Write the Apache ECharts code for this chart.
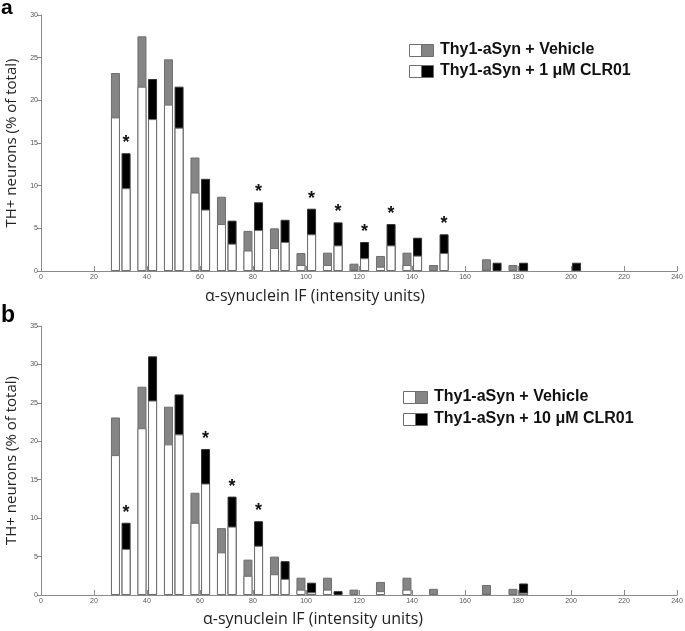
<!DOCTYPE html>
<html>
<head>
<meta charset="utf-8">
<script src="https://cdn.jsdelivr.net/npm/echarts@6/dist/echarts.min.js"></script>
<style>
  html, body { margin: 0; padding: 0; background: #fff; }
  #chart { width: 685px; height: 631px; }
</style>
</head>
<body>
<div id="chart"></div>
<script>
// histogram bins (intensity units), bar pairs sit either side of the bin centre
var bins = [30, 40, 50, 60, 70, 80, 90, 100, 110, 120, 130, 140, 150, 160, 170, 180, 190, 200]

// panel a : lower (white) part and total height of each bar, % of total
var vehLowA = [18.0, 21.6, 19.5, 9.2, 5.5, 2.4, 2.7, 0.7, 0.7, 0.2, 0.5, 0.7, 0, 0, 0.2, 0, 0, 0]
var vehTotA = [23.2, 27.5, 24.8, 13.3, 8.7, 4.7, 5.0, 2.1, 2.15, 0.86, 1.76, 2.15, 0.7, 0, 1.37, 0.7, 0, 0]
var trtLowA = [9.7, 17.8, 16.8, 7.2, 3.2, 4.8, 3.4, 4.3, 3.0, 1.5, 3.0, 1.8, 2.1, 0, 0, 0, 0, 0]
var trtTotA = [13.8, 22.5, 21.6, 10.8, 5.9, 8.05, 6.0, 7.3, 5.7, 3.4, 5.5, 3.9, 4.3, 0, 0.97, 0.97, 0, 0.97]
var starsA = [30, 80, 100, 110, 120, 130, 150]

// panel b
var vehLowB = [18.2, 21.7, 19.6, 9.4, 5.55, 2.5, 2.7, 0.7, 0.7, 0, 0.5, 0.7, 0, 0, 0.2, 0, 0, 0]
var vehTotB = [23.1, 27.1, 24.5, 13.3, 8.7, 4.6, 5.0, 2.25, 2.25, 0.7, 1.7, 2.25, 0.8, 0, 1.3, 0.8, 0, 0]
var trtLowB = [6.0, 25.3, 20.9, 14.5, 8.9, 6.4, 2.1, 0.35, 0, 0, 0, 0, 0, 0, 0, 0.3, 0, 0]
var trtTotB = [9.4, 31.05, 26.1, 19.0, 12.8, 9.6, 4.4, 1.6, 0.5, 0, 0, 0, 0, 0, 0, 1.5, 0, 0]
var starsB = [30, 60, 70, 80]

var GREY = '#858585'
var EDGE = '#6e6e6e'
var BW = 9

function pts(vals, off) {
  return bins.map(function (b, i) {
    var v = vals[i]
    var d = { value: [b + off, v] }
    if (!(v > 0)) d.itemStyle = { borderWidth: 0, opacity: 0 }
    return d
  })
}

// total bar (coloured) drawn first, lower white part drawn over it from 0
function panelSeries(k, vehLow, vehTot, trtLow, trtTot, stars) {
  var base = {
    type: 'bar', barWidth: BW, barGap: '-100%',
    xAxisIndex: k, yAxisIndex: k, silent: true
  }
  return [
    Object.assign({}, base, { data: pts(vehTot, -1.9), itemStyle: { color: GREY, borderColor: EDGE, borderWidth: 1 } }),
    Object.assign({}, base, { data: pts(vehLow, -1.9), itemStyle: { color: '#fff', borderColor: EDGE, borderWidth: 1 } }),
    Object.assign({}, base, {
      data: pts(trtTot, 2.1),
      itemStyle: { color: '#000', borderColor: '#333', borderWidth: 1 },
      label: {
        show: true, position: 'top', distance: 1,
        fontFamily: 'Liberation Sans', fontWeight: 'bold', fontSize: 18, color: '#111',
        formatter: function (p) { return stars.indexOf(bins[p.dataIndex]) >= 0 ? '*' : '' }
      }
    }),
    Object.assign({}, base, { data: pts(trtLow, 2.1), itemStyle: { color: '#fff', borderColor: EDGE, borderWidth: 1 } })
  ]
}

function xAx(k) {
  return {
    type: 'value', gridIndex: k, min: 0, max: 240, interval: 20,
    axisLine: { lineStyle: { color: '#8a8a8a', width: 1 } },
    axisTick: { inside: true, length: 5, lineStyle: { color: '#8a8a8a' } },
    axisLabel: { fontSize: 7, color: '#555', margin: 3, fontFamily: 'Liberation Sans' },
    splitLine: { show: false }
  }
}
function yAx(k, max) {
  return {
    type: 'value', gridIndex: k, min: 0, max: max, interval: 5,
    name: 'TH+ neurons (% of total)', nameLocation: 'middle', nameGap: 22, nameRotate: 90,
    nameTextStyle: { fontFamily: 'Open Sans', fontSize: 15, color: '#222' },
    axisLine: { show: true, lineStyle: { color: '#8a8a8a', width: 1 } },
    axisTick: { show: true, length: 4, lineStyle: { color: '#8a8a8a' } },
    axisLabel: { fontSize: 7, color: '#555', margin: 3, fontFamily: 'Liberation Sans' },
    splitLine: { show: false }
  }
}

function legendItems(x, y1, y2, label1, label2) {
  var out = []
  ;[[y1, GREY, label1], [y2, '#000', label2]].forEach(function (r) {
    out.push({ type: 'rect', left: x, top: r[0], shape: { width: 12, height: 12 }, style: { fill: '#fff', stroke: EDGE, lineWidth: 1 } })
    out.push({ type: 'rect', left: x + 12, top: r[0], shape: { width: 12, height: 12 }, style: { fill: r[1], stroke: EDGE, lineWidth: 1 } })
    out.push({ type: 'text', left: x + 31, top: r[0] - 2, style: { text: r[2], font: 'bold 16px "Liberation Sans"', fill: '#111' } })
  })
  return out
}

var chart = echarts.init(document.getElementById('chart'), null, { renderer: 'canvas' })
var option = {
  animation: false,
  backgroundColor: '#fff',
  grid: [
    { left: 41, right: 8, top: 15, height: 256, containLabel: false, outerBoundsMode: 'none' },
    { left: 41, right: 8, top: 326, height: 269, containLabel: false, outerBoundsMode: 'none' }
  ],
  xAxis: [xAx(0), xAx(1)],
  yAxis: [yAx(0, 30), yAx(1, 35)],
  series: [].concat(
    panelSeries(0, vehLowA, vehTotA, trtLowA, trtTotA, starsA),
    panelSeries(1, vehLowB, vehTotB, trtLowB, trtTotB, starsB)
  ),
  graphic: [
    { type: 'text', left: 1, top: -2, style: { text: 'a', font: 'bold 21px "Liberation Sans"', fill: '#000' } },
    { type: 'text', left: 1, top: 304, style: { text: 'b', font: 'bold 23px "Liberation Sans"', fill: '#000' } },
    { type: 'text', left: 205, top: 288, style: { text: 'α-synuclein IF (intensity units)', font: '16px "Open Sans"', fill: '#222' } },
    { type: 'text', left: 203, top: 611, style: { text: 'α-synuclein IF (intensity units)', font: '16px "Open Sans"', fill: '#222' } }
  ].concat(
    legendItems(409, 44, 65, 'Thy1-aSyn + Vehicle', 'Thy1-aSyn + 1 μM CLR01'),
    legendItems(403, 391, 413, 'Thy1-aSyn + Vehicle', 'Thy1-aSyn + 10 μM CLR01')
  )
}
chart.setOption(option)
</script>
</body>
</html>
